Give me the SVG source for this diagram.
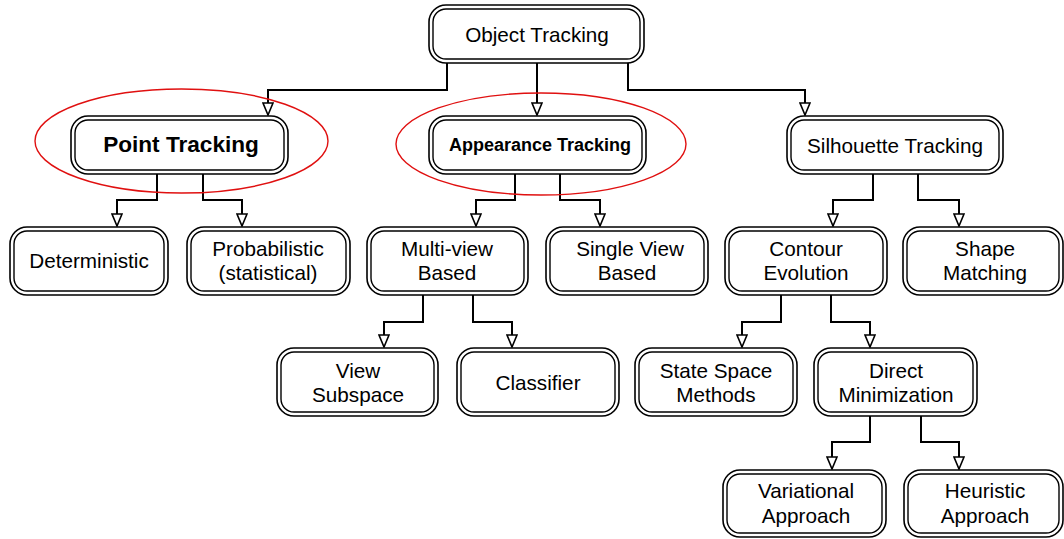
<svg xmlns="http://www.w3.org/2000/svg" width="1064" height="539" viewBox="0 0 1064 539">
<defs>
<style>
.o{fill:#fff;stroke:#000;stroke-width:1.6}
.i{fill:#fff;stroke:#000;stroke-width:1.4}
text{font-family:"Liberation Sans",Arial,Helvetica,sans-serif;font-size:20.7px;fill:#000;text-anchor:middle}
.b{font-weight:bold}
.c{fill:none;stroke:#000;stroke-width:2;marker-end:url(#ah)}
.e{fill:none;stroke:#e01010;stroke-width:1.4}
</style>
<marker id="ah" viewBox="0 0 14 12" refX="13" refY="6" markerWidth="14" markerHeight="12" markerUnits="userSpaceOnUse" orient="auto">
<path d="M1,1 L13,6 L1,11 Z" fill="#fff" stroke="#000" stroke-width="1.6"/>
</marker>
</defs>
<rect width="1064" height="539" fill="#fff"/>
<g id="connectors">
<path class="c" d="M447,63 V90 H268 V115"/>
<path class="c" d="M537,63 V115"/>
<path class="c" d="M628,63 V90 H805 V115"/>
<path class="c" d="M157,174 V200 H117 V226"/>
<path class="c" d="M203,174 V200 H242 V226"/>
<path class="c" d="M515,174 V200 H476 V226"/>
<path class="c" d="M560,174 V200 H600 V226"/>
<path class="c" d="M873,174 V200 H833 V226"/>
<path class="c" d="M918,174 V200 H959 V226"/>
<path class="c" d="M423,295 V322 H384 V347"/>
<path class="c" d="M473,295 V322 H512 V347"/>
<path class="c" d="M781,295 V322 H742 V347"/>
<path class="c" d="M831,295 V322 H870 V347"/>
<path class="c" d="M870,416 V442 H832 V469"/>
<path class="c" d="M921,416 V442 H959 V469"/>
</g>
<g id="object-tracking"><rect class="o" x="429" y="5" width="215" height="58" rx="17"/><rect class="i" x="433" y="9" width="207" height="50" rx="13"/><text x="537" y="42">Object Tracking</text></g>
<g id="point-tracking"><rect class="o" x="71" y="116" width="217" height="58" rx="17"/><rect class="i" x="75" y="120" width="209" height="50" rx="13"/><text class="b" x="181" y="152" style="font-size:22.6px">Point Tracking</text></g>
<g id="appearance-tracking"><rect class="o" x="429" y="116" width="217" height="58" rx="17"/><rect class="i" x="433" y="120" width="209" height="50" rx="13"/><text class="b" x="540" y="151" style="font-size:18px">Appearance Tracking</text></g>
<g id="silhouette-tracking"><rect class="o" x="787" y="116" width="216" height="58" rx="17"/><rect class="i" x="791" y="120" width="208" height="50" rx="13"/><text x="895" y="153">Silhouette Tracking</text></g>

<g id="deterministic"><rect class="o" x="10" y="227" width="158" height="68" rx="17"/><rect class="i" x="14" y="231" width="150" height="60" rx="13"/><text x="89" y="268">Deterministic</text></g>
<g id="probabilistic"><rect class="o" x="187" y="227" width="163" height="68" rx="17"/><rect class="i" x="191" y="231" width="155" height="60" rx="13"/><text x="268" y="256">Probabilistic</text><text x="268" y="280">(statistical)</text></g>
<g id="multi-view"><rect class="o" x="367" y="227" width="161" height="68" rx="17"/><rect class="i" x="371" y="231" width="153" height="60" rx="13"/><text x="447" y="256">Multi-view</text><text x="447" y="280">Based</text></g>
<g id="single-view"><rect class="o" x="546" y="227" width="162" height="68" rx="17"/><rect class="i" x="550" y="231" width="154" height="60" rx="13"/><text x="630" y="256">Single View</text><text x="627" y="280">Based</text></g>
<g id="contour-evolution"><rect class="o" x="725" y="227" width="162" height="68" rx="17"/><rect class="i" x="729" y="231" width="154" height="60" rx="13"/><text x="806" y="256">Contour</text><text x="806" y="280">Evolution</text></g>
<g id="shape-matching"><rect class="o" x="903" y="227" width="160" height="68" rx="17"/><rect class="i" x="907" y="231" width="152" height="60" rx="13"/><text x="985" y="256">Shape</text><text x="985" y="280">Matching</text></g>

<g id="view-subspace"><rect class="o" x="277" y="348" width="161" height="68" rx="17"/><rect class="i" x="281" y="352" width="153" height="60" rx="13"/><text x="358" y="378">View</text><text x="358" y="402">Subspace</text></g>
<g id="classifier"><rect class="o" x="457" y="348" width="162" height="68" rx="17"/><rect class="i" x="461" y="352" width="154" height="60" rx="13"/><text x="538" y="390">Classifier</text></g>
<g id="state-space"><rect class="o" x="635" y="348" width="162" height="68" rx="17"/><rect class="i" x="639" y="352" width="154" height="60" rx="13"/><text x="716" y="378">State Space</text><text x="716" y="402">Methods</text></g>
<g id="direct-minimization"><rect class="o" x="814" y="348" width="163" height="68" rx="17"/><rect class="i" x="818" y="352" width="155" height="60" rx="13"/><text x="896" y="378">Direct</text><text x="896" y="402">Minimization</text></g>

<g id="variational"><rect class="o" x="723" y="470" width="163" height="67" rx="17"/><rect class="i" x="727" y="474" width="155" height="59" rx="13"/><text x="806" y="498">Variational</text><text x="806" y="523">Approach</text></g>
<g id="heuristic"><rect class="o" x="904" y="470" width="159" height="67" rx="17"/><rect class="i" x="908" y="474" width="151" height="59" rx="13"/><text x="985" y="498">Heuristic</text><text x="985" y="523">Approach</text></g>

<ellipse class="e" cx="181.5" cy="141" rx="146.5" ry="52"/>
<ellipse class="e" cx="541" cy="144" rx="145" ry="51"/>
</svg>
